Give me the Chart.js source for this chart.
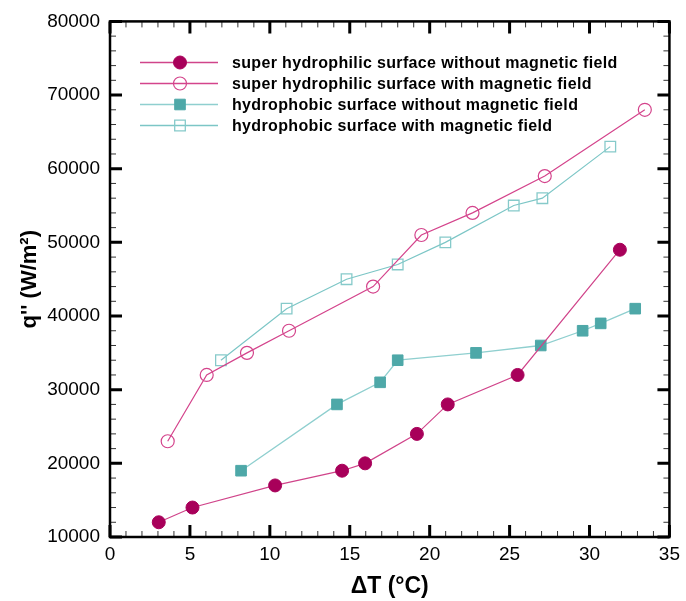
<!DOCTYPE html>
<html>
<head>
<meta charset="utf-8">
<script src="https://cdn.jsdelivr.net/npm/chart.js@4/dist/chart.umd.min.js"></script>
<style>
html,body{margin:0;padding:0;background:#fff;}
#wrap{width:686px;height:601px;}
</style>
</head>
<body>
<div id="wrap"><canvas id="c" width="686" height="601"></canvas></div>
<script>
// ---- data ----
const seriesNames = [
  "super hydrophilic surface without magnetic field",
  "super hydrophilic surface with magnetic field",
  "hydrophobic surface without magnetic field",
  "hydrophobic surface with magnetic field"
];
const dT_shNoMF = [3.05, 5.16, 10.33, 14.52, 15.96, 19.2, 21.13, 25.5, 31.9];
const q_shNoMF  = [12000, 14000, 17000, 19000, 20000, 24000, 28000, 32000, 49000];
const dT_shMF   = [3.61, 6.05, 8.57, 11.2, 16.46, 19.48, 22.68, 27.2, 33.46];
const q_shMF    = [23000, 32000, 35000, 38000, 44000, 51000, 54000, 59000, 68000];
const dT_hpNoMF = [8.2, 14.2, 16.9, 18.0, 22.9, 26.95, 29.57, 30.7, 32.86];
const q_hpNoMF  = [19000, 28000, 31000, 34000, 35000, 36000, 38000, 39000, 41000];
const dT_hpMF   = [6.94, 11.05, 14.8, 18.0, 20.98, 25.26, 27.05, 31.3];
const q_hpMF    = [34000, 41000, 45000, 47000, 50000, 55000, 56000, 63000];

const xTitle = "\u0394T (\u00B0C)";
const yTitle = "q'' (W/m\u00B2)";

function pts(xs, ys){ return xs.map((x,i)=>({x:x, y:ys[i]})); }

const FONT = "'Liberation Sans', Arial, sans-serif";

const boxTicks = {
  id: 'boxTicks',
  afterDraw(chart){
    const ctx = chart.ctx, a = chart.chartArea;
    const xs = chart.scales.x, ys = chart.scales.y;
    ctx.save();
    for (let v = 0; v <= 35; v += 1){
      const px = xs.getPixelForValue(v);
      const major = v % 5 === 0;
      const len = major ? 12 : 6;
      ctx.lineWidth = major ? 3 : 1;
      ctx.strokeStyle = major ? '#000' : '#333';
      ctx.beginPath();
      ctx.moveTo(px, a.bottom); ctx.lineTo(px, a.bottom - len);
      ctx.moveTo(px, a.top); ctx.lineTo(px, a.top + len);
      ctx.stroke();
    }
    for (let v = 10000; v <= 80000; v += 2000){
      const py = ys.getPixelForValue(v);
      const major = v % 10000 === 0;
      const len = major ? 12 : 6;
      ctx.lineWidth = major ? 3 : 1;
      ctx.strokeStyle = major ? '#000' : '#333';
      ctx.beginPath();
      ctx.moveTo(a.left, py); ctx.lineTo(a.left + len, py);
      ctx.moveTo(a.right, py); ctx.lineTo(a.right - len, py);
      ctx.stroke();
    }
    ctx.lineWidth = 2.5;
    ctx.strokeStyle = '#000';
    ctx.strokeRect(a.left, a.top, a.right - a.left, a.bottom - a.top);

    // legend
    const rowY = [62.5, 83.5, 104.5, 125.5];
    chart.data.datasets.forEach((ds, i) => {
      const y = rowY[i];
      ctx.lineWidth = 1.5;
      ctx.strokeStyle = ds.borderColor;
      ctx.beginPath(); ctx.moveTo(140, y); ctx.lineTo(218, y); ctx.stroke();
      ctx.fillStyle = ds.pointBackgroundColor;
      ctx.strokeStyle = ds.pointBorderColor;
      ctx.lineWidth = ds.pointBorderWidth;
      Chart.helpers.drawPoint(ctx, {pointStyle: ds.pointStyle, radius: ds.pointRadius, rotation: 0, borderWidth: ds.pointBorderWidth}, 180, y);
      ctx.fillStyle = '#000';
      ctx.font = "bold 16px " + FONT;
      ctx.letterSpacing = '0.35px';
      ctx.textBaseline = 'middle';
      ctx.textAlign = 'left';
      ctx.fillText(seriesNames[i], 232, y + 1);
      ctx.letterSpacing = '0px';
    });
    ctx.restore();
  }
};

new Chart(document.getElementById('c'), {
  type: 'line',
  data: {
    datasets: [
      { label: seriesNames[0], data: pts(dT_shNoMF, q_shNoMF),
        borderColor: '#d0448a', borderWidth: 1.2,
        pointStyle: 'circle', pointRadius: 6.5, pointBorderWidth: 1,
        pointBackgroundColor: '#a8005a', pointBorderColor: '#a8005a' },
      { label: seriesNames[1], data: pts(dT_shMF, q_shMF),
        borderColor: '#d4448c', borderWidth: 1.2,
        pointStyle: 'circle', pointRadius: 6.5, pointBorderWidth: 1.2,
        pointBackgroundColor: 'rgba(255,255,255,0)', pointBorderColor: '#d4448c' },
      { label: seriesNames[2], data: pts(dT_hpNoMF, q_hpNoMF),
        borderColor: '#8fcfcf', borderWidth: 1.3,
        pointStyle: 'rect', pointRadius: 7.5, pointBorderWidth: 1,
        pointBackgroundColor: '#4ea8a8', pointBorderColor: '#4ea8a8' },
      { label: seriesNames[3], data: pts(dT_hpMF, q_hpMF),
        borderColor: '#7cc6c6', borderWidth: 1.2,
        pointStyle: 'rect', pointRadius: 7.5, pointBorderWidth: 1.3,
        pointBackgroundColor: 'rgba(255,255,255,0)', pointBorderColor: '#86caca' }
    ]
  },
  options: {
    responsive: false,
    animation: false,
    devicePixelRatio: 1,
    layout: { padding: { top: 19, right: 11, left: 0, bottom: 0 } },
    plugins: { legend: { display: false }, tooltip: { enabled: false } },
    elements: { line: { tension: 0 } },
    scales: {
      x: {
        type: 'linear', min: 0, max: 35,
        grid: { display: false, drawTicks: false },
        border: { display: false },
        ticks: { stepSize: 5, padding: 6, color: '#000', font: { family: FONT, size: 19 },
                 callback: v => String(v) },
        title: { display: true, text: xTitle, color: '#000', padding: { top: 0, bottom: 1 },
                 font: { family: FONT, size: 23, weight: 'bold' } },
        afterFit(s){ s.height = 64; }
      },
      y: {
        type: 'linear', min: 10000, max: 80000,
        grid: { display: false, drawTicks: false },
        border: { display: false },
        ticks: { stepSize: 10000, padding: 10, color: '#000', font: { family: FONT, size: 19 },
                 callback: v => String(v) },
        title: { display: true, text: yTitle, color: '#000', padding: { top: 17, bottom: 0 },
                 font: { family: FONT, size: 22, weight: 'bold' } },
        afterFit(s){ s.width = 110; }
      }
    }
  },
  plugins: [boxTicks]
});
</script>
</body>
</html>
